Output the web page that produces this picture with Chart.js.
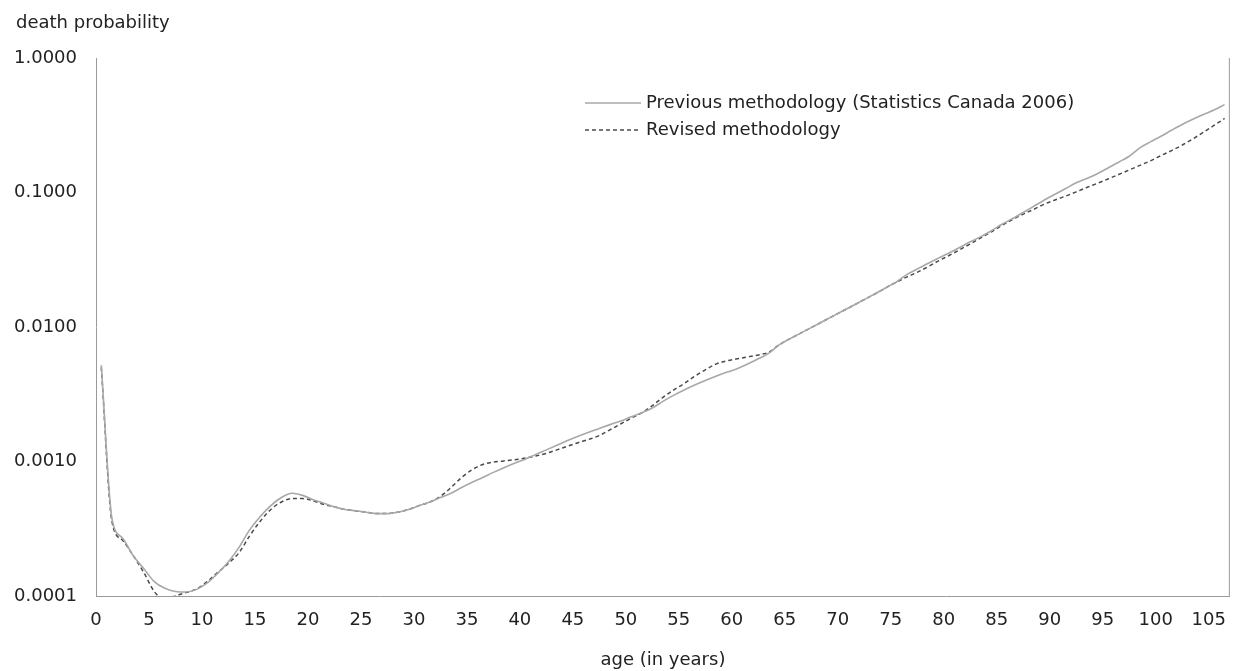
<!DOCTYPE html>
<html>
<head>
<meta charset="utf-8">
<script src="https://cdn.jsdelivr.net/npm/chart.js@4.4.1/dist/chart.umd.min.js"></script>
<style>
  body { margin: 0; background: #fff; }
  #wrap { width: 1240px; height: 671px; position: relative; }
</style>
</head>
<body>
<div id="wrap"><canvas id="chart"></canvas></div>
<script>
// ages 0..106, values plotted at the middle of each year of age
const ages = [0,1,2,3,4,5,6,7,8,9,10,11,12,13,14,15,16,17,18,19,20,21,22,23,24,25,26,27,28,29,
  30,31,32,33,34,35,36,37,38,39,40,41,42,43,44,45,46,47,48,49,50,51,52,53,54,55,56,57,58,59,
  60,61,62,63,64,65,66,67,68,69,70,71,72,73,74,75,76,77,78,79,80,81,82,83,84,85,86,87,88,89,
  90,91,92,93,94,95,96,97,98,99,100,101,102,103,104,105,106];

const previousMethod = [0.0052,0.00038,0.00027,0.0002,0.00016,0.000128,0.000114,0.000108,0.000107,0.000112,
  0.000125,0.000148,0.00018,0.00023,0.00031,0.00039,0.00047,0.00054,0.00058,0.00056,
  0.00052,0.00049,0.00046,0.00044,0.00043,0.00042,0.00041,0.00041,0.00042,0.00044,
  0.00047,0.0005,0.00054,0.00058,0.00064,0.0007,0.00076,0.00083,0.0009,0.00097,
  0.00104,0.00113,0.00122,0.00132,0.00143,0.00154,0.00165,0.00176,0.00188,0.002,
  0.00215,0.0023,0.0025,0.0028,0.0031,0.0034,0.0037,0.004,0.0043,0.0046,
  0.0049,0.0053,0.0058,0.0064,0.0074,0.0082,0.009,0.0099,0.0109,0.012,
  0.0132,0.0145,0.016,0.0176,0.0195,0.0215,0.0245,0.027,0.0297,0.0325,
  0.0355,0.039,0.043,0.047,0.052,0.058,0.064,0.071,0.079,0.088,
  0.097,0.107,0.118,0.127,0.138,0.152,0.168,0.186,0.215,0.238,
  0.262,0.29,0.32,0.35,0.38,0.41,0.45];

const revisedMethod = [0.005,0.00036,0.00026,0.0002,0.00015,0.000108,0.000093,0.0001,0.000106,0.000113,
  0.000128,0.00015,0.000175,0.00021,0.00028,0.00036,0.00044,0.0005,0.00053,0.00053,
  0.00051,0.00048,0.00046,0.00044,0.00043,0.00042,0.00041,0.00041,0.00042,0.00044,
  0.00047,0.0005,0.00055,0.00064,0.00076,0.00087,0.00095,0.00099,0.00101,0.00103,
  0.00106,0.0011,0.00115,0.00122,0.0013,0.00138,0.00146,0.00156,0.00172,0.0019,
  0.0021,0.0023,0.0026,0.003,0.0034,0.0038,0.0043,0.0048,0.0053,0.0056,
  0.0058,0.006,0.0062,0.0065,0.0074,0.0082,0.009,0.0099,0.0109,0.012,
  0.0132,0.0145,0.016,0.0176,0.0195,0.0215,0.0235,0.0255,0.028,0.031,
  0.034,0.0375,0.0415,0.046,0.051,0.057,0.063,0.069,0.075,0.082,
  0.088,0.094,0.101,0.109,0.117,0.126,0.136,0.147,0.159,0.172,
  0.188,0.205,0.225,0.25,0.28,0.315,0.355];

const yTicks = [0.0001, 0.001, 0.01, 0.1, 1];
const seriesNames = ['Previous methodology (Statistics Canada 2006)', 'Revised methodology'];

const FONT = 'DejaVu Sans';
const prevColor = '#a8a8a8';
const revColor = '#4a4a4a';

function toPoints(values) {
    return values.map((v, i) => ({ x: ages[i] + 0.5, y: v }));
}

// axis caption, right frame line and the legend drawn inside the plot
const extras = {
    id: 'extras',
    afterDraw(chart) {
        const c = chart.ctx;
        const a = chart.chartArea;
        c.save();
        c.strokeStyle = '#9a9a9a';
        c.lineWidth = 1;
        c.beginPath();
        c.moveTo(a.right - 0.5, a.top);
        c.lineTo(a.right - 0.5, a.bottom);
        c.stroke();

        c.fillStyle = '#222';
        c.font = '18px ' + FONT;
        c.textBaseline = 'middle';
        c.fillText('death probability', 16, 23);

        const lx = 585, tx = 646;
        const rows = [
            { y: 103, color: prevColor, dash: [] },
            { y: 130, color: revColor, dash: [4, 3] }
        ];
        rows.forEach((r, i) => {
            c.strokeStyle = r.color;
            c.lineWidth = 1.5;
            c.setLineDash(r.dash);
            c.beginPath();
            c.moveTo(lx, r.y);
            c.lineTo(tx - 5, r.y);
            c.stroke();
            c.setLineDash([]);
            c.fillText(seriesNames[i], tx, r.y);
        });
        c.restore();
    }
};

new Chart(document.getElementById('chart'), {
    type: 'line',
    data: {
        datasets: [
            {
                label: seriesNames[0],
                data: toPoints(previousMethod),
                borderColor: prevColor,
                borderWidth: 1.6,
                pointRadius: 0,
                cubicInterpolationMode: 'monotone'
            },
            {
                label: seriesNames[1],
                data: toPoints(revisedMethod),
                borderColor: revColor,
                borderWidth: 1.5,
                borderDash: [4, 3],
                pointRadius: 0,
                cubicInterpolationMode: 'monotone'
            }
        ]
    },
    options: {
        responsive: true,
        maintainAspectRatio: false,
        animation: false,
        layout: { padding: { top: 58, right: 9, left: 0, bottom: 0 } },
        plugins: {
            legend: { display: false },
            tooltip: { enabled: false }
        },
        scales: {
            x: {
                type: 'linear',
                min: 0,
                max: 107,
                grid: { display: false, drawTicks: false },
                border: { color: '#9a9a9a' },
                ticks: {
                    stepSize: 5,
                    includeBounds: false,
                    autoSkip: false,
                    maxRotation: 0,
                    padding: 14,
                    color: '#222',
                    font: { family: FONT, size: 18 }
                },
                title: {
                    display: true,
                    text: 'age (in years)',
                    color: '#222',
                    font: { family: FONT, size: 18 },
                    padding: { top: 0, bottom: 0 }
                },
                afterFit(scale) { scale.height = 75; }
            },
            y: {
                type: 'logarithmic',
                min: 0.0001,
                max: 1,
                grid: { display: false, drawTicks: false },
                border: { color: '#9a9a9a' },
                afterBuildTicks(scale) {
                    scale.ticks = yTicks.map(v => ({ value: v }));
                },
                ticks: {
                    padding: 19,
                    color: '#222',
                    font: { family: FONT, size: 18 },
                    callback: v => Number(v).toFixed(4)
                },
                afterFit(scale) { scale.width = 96; }
            }
        }
    },
    plugins: [extras]
});
</script>
</body>
</html>
